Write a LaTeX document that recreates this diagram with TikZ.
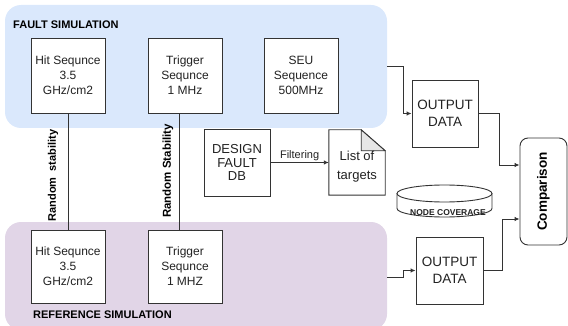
\documentclass[tikz,border=0pt]{standalone}
\usepackage{fontspec}
\setmainfont{Liberation Sans}
\usetikzlibrary{arrows.meta}
\definecolor{linec}{HTML}{333333}
\definecolor{txtc}{HTML}{222222}
\definecolor{faultbg}{HTML}{DAE8FC}
\definecolor{refbg}{HTML}{E1D5E7}
\definecolor{foldc}{HTML}{E6E6E6}
\tikzset{
  region/.style={fill=#1, draw=none, rounded corners=16pt, inner sep=0pt},
  box/.style={draw=linec, line width=0.9pt, fill=white, align=center, inner sep=0pt,
    text=txtc, minimum width=74pt, minimum height=75pt},
  boxtxt/.style={font=\fontsize{12}{15}\selectfont},
  bigtxt/.style={font=\fontsize{13.5}{17}\selectfont},
  title/.style={font=\fontsize{11}{13}\bfseries\selectfont, text=black, inner sep=0pt},
  wire/.style={draw=linec, line width=0.9pt},
  arr/.style={wire, -{Latex[length=5pt,width=4.5pt]}},
}
\begin{document}
\begin{tikzpicture}[x=1pt,y=-1pt]
\useasboundingbox (0,0) rectangle (568,326);

% simulation regions
\node[region=faultbg, minimum width=382pt, minimum height=123pt] (fault) at (196,66.5) {};
\node[region=refbg, minimum width=382pt, minimum height=108pt] (ref) at (196,276) {};
\node[title, anchor=west] (ftitle) at (13,25) {FAULT SIMULATION};
\node[title, anchor=west] (rtitle) at (33,315) {REFERENCE SIMULATION};

% sequence generators
\node[box, boxtxt] (hitF) at (68,75.5) {Hit Sequnce\\3.5\\GHz/cm2};
\node[box, boxtxt] (trigF) at (185,75.5) {Trigger\\Sequnce\\1 MHz};
\node[box, boxtxt] (seuF) at (301,75.5) {SEU\\Sequence\\500MHz};
\node[box, boxtxt, minimum height=73pt] (hitR) at (68,266.5) {Hit Sequnce\\3.5\\GHz/cm2};
\node[box, boxtxt, minimum height=73pt] (trigR) at (185,266.5) {Trigger\\Sequnce\\1 MHZ};

% shared random seeds
\draw[wire] (hitF.south) -- (hitR.north);
\draw[wire] ([xshift=-5.5pt]trigF.south) -- ([xshift=-5.5pt]trigR.north);
\node[title, rotate=90] (rs1) at (53,175.5) {Random\ \ stability};
\node[title, font=\fontsize{11.5}{13}\bfseries\selectfont, rotate=90] (rs2) at (168,171) {Random Stability};

% fault database and target list
\node[box, font=\fontsize{13}{13.5}\selectfont, minimum width=66pt, minimum height=67pt] (db) at (237,162.5) {DESIGN\\FAULT\\DB};
\node[inner sep=0pt, minimum width=56pt, minimum height=65pt] (list) at (357,162.5) {};
\draw[wire, fill=white] (list.north west) -- ([xshift=-24pt]list.north east)
  -- ([yshift=-21pt]list.north east) -- (list.south east) -- (list.south west) -- cycle;
\draw[wire, fill=foldc, line join=round] ([xshift=-24pt]list.north east)
  -- ([xshift=-24pt,yshift=-21pt]list.north east) -- ([yshift=-21pt]list.north east) -- cycle;
\node[align=center, inner sep=0pt, text=txtc, font=\fontsize{13}{19}\selectfont] (listtxt)
  at ([yshift=-4pt]list.center) {List of\\targets};
\draw[arr] (db.east) -- node[above=1pt, inner sep=0pt, text=txtc, font=\fontsize{11}{13}\selectfont] {Filtering} (list.west);

% node coverage store
\draw[wire, fill=white] (492,193.5) -- (492,208.5) arc[start angle=0, end angle=-180, x radius=47.5pt, y radius=8.5pt] -- (397,193.5);
\draw[wire, fill=white] (444.5,193.5) ellipse [x radius=47.5pt, y radius=8.5pt];
\node[inner sep=0pt, text=txtc, font=\fontsize{8.5}{10}\bfseries\selectfont] (cov) at (448,212.5) {NODE COVERAGE};

% outputs and comparison
\node[box, bigtxt, minimum width=66pt, minimum height=67pt] (out1) at (445,113.5) {OUTPUT\\DATA};
\node[box, bigtxt, minimum width=67pt, minimum height=67pt] (out2) at (449.5,270.5) {OUTPUT\\DATA};
\node[box, rounded corners=8pt, minimum width=47pt, minimum height=107pt] (cmp) at (543.5,191.5) {};
\node[rotate=90, inner sep=0pt, text=black, font=\fontsize{13.5}{16}\bfseries\selectfont] (cmptxt) at (cmp.center) {Comparison};

\draw[arr] ([yshift=0.5pt]fault.east) -- ++(16,0) |- (out1.west);
\draw[arr] ([yshift=-1pt]ref.east) -- ++(16,0) |- (out2.west);
\draw[arr] (out1.east) -- ++(21,0) |- ([yshift=26.5pt]cmp.west);
\draw[arr] (out2.east) -- ++(18.5,0) |- ([yshift=-27.5pt]cmp.west);
\end{tikzpicture}
\end{document}
